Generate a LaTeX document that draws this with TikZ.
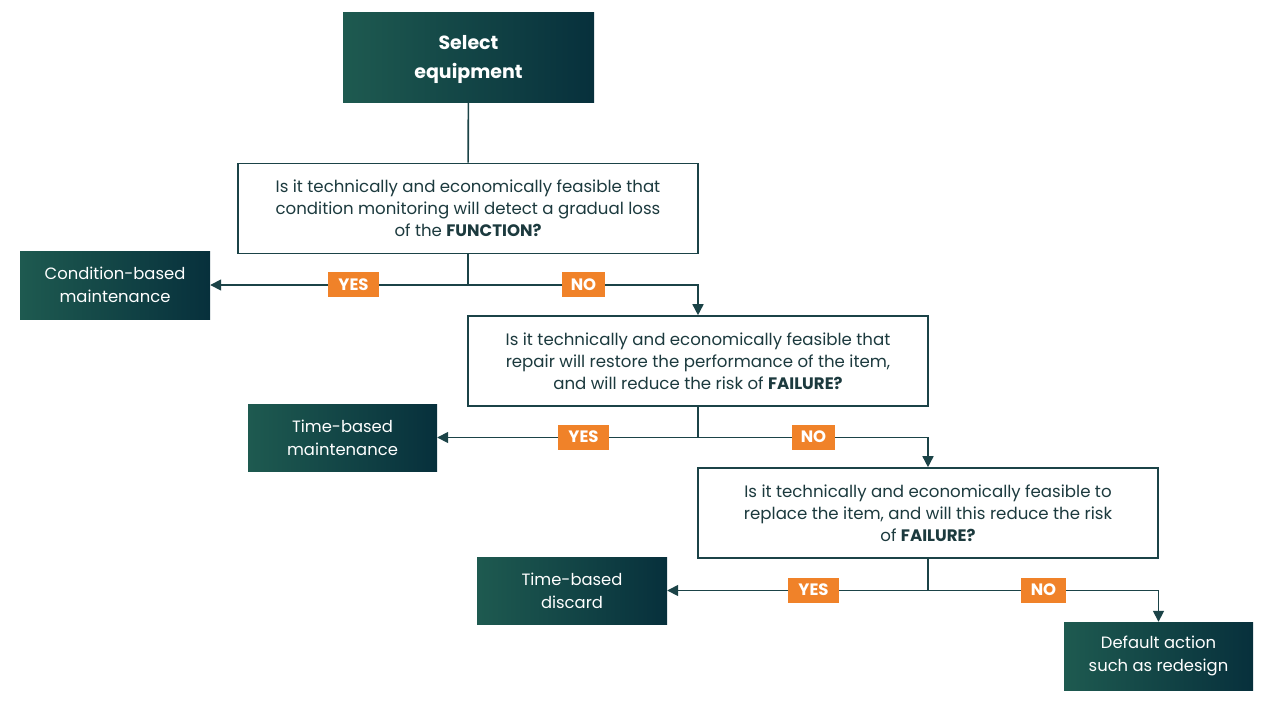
\documentclass[tikz,border=0pt]{standalone}
\usepackage{fontspec}
\setmainfont{Poppins}
\usetikzlibrary{arrows.meta}
\definecolor{tealL}{HTML}{1E5A50}
\definecolor{tealD}{HTML}{07303C}
\definecolor{edge}{HTML}{1B4347}
\definecolor{txt}{HTML}{1C3A3E}
\definecolor{orng}{HTML}{F08229}
\tikzset{
  action/.style={draw=none, left color=tealL, right color=tealD, text=white,
    minimum width=190pt, minimum height=68pt, inner sep=0pt, align=center,
    font=\fontsize{16.4}{23}\selectfont},
  question/.style={draw=edge, line width=1.6pt, fill=white, text=txt,
    minimum width=460pt, minimum height=90pt, inner sep=0pt, align=center,
    font=\fontsize{16.6}{22}\selectfont},
  tag/.style={fill=orng, text=white, minimum height=25pt, inner sep=0pt,
    font=\bfseries\fontsize{16.5}{18}\selectfont},
  conn/.style={draw=edge, line width=1.6pt},
  arr/.style={conn, -{Triangle[length=11pt,width=11pt]}}
}
\begin{document}
\begin{tikzpicture}[x=1pt,y=-1pt]
\useasboundingbox (0,0) rectangle (1271,707);
\node[action, minimum width=251pt, minimum height=90pt, font=\bfseries\fontsize{19}{29}\selectfont] (sel) at (468.5,57) {\rule{0pt}{20pt}Select\\equipment};
\node[question] (q1) at (468,208.5) {Is it technically and economically feasible that\\condition monitoring will detect a gradual loss\\of the \textbf{FUNCTION?}};
\node[action] (cbm) at (115,285) {Condition-based\\maintenance};
\node[question] (q2) at (698,361) {Is it technically and economically feasible that\\repair will restore the performance of the item,\\and will reduce the risk of \textbf{FAILURE?}};
\node[action, minimum width=189pt, minimum height=67pt] (tbm) at (342.5,437.5) {Time-based\\maintenance};
\node[question] (q3) at (928,513) {Is it technically and economically feasible to\\replace the item, and will this reduce the risk\\of \textbf{FAILURE?}};
\node[action, minimum height=67pt] (tbd) at (572,590.5) {Time-based\\discard};
\node[action, minimum width=189pt] (da) at (1158.5,656) {Default action\\such as redesign};

\draw[conn] (sel) -- (q1);
\coordinate (j1) at (q1.south |- cbm.east);
\coordinate (j2) at (q2.south |- tbm.east);
\coordinate (j3) at (q3.south |- tbd.east);
\draw[conn] (q1.south) -- (j1);
\draw[arr] (j1) -- (cbm.east);
\draw[arr] (j1) -| (q2.north);
\draw[conn] (q2.south) -- (j2);
\draw[arr] (j2) -- (tbm.east);
\draw[arr] (j2) -| (q3.north);
\draw[conn] (q3.south) -- (j3);
\draw[arr] (j3) -- (tbd.east);
\draw[arr] (j3) -| (da.north);

\node[tag, minimum width=51pt] (y1) at (353.5,284.5) {YES};
\node[tag, minimum width=43pt] (n1) at (583.5,284.5) {NO};
\node[tag, minimum width=51pt] (y2) at (583.5,437) {YES};
\node[tag, minimum width=43pt] (n2) at (813.5,437) {NO};
\node[tag, minimum width=51pt] (y3) at (813.5,590) {YES};
\node[tag, minimum width=45pt] (n3) at (1043.5,590) {NO};
\end{tikzpicture}
\end{document}
